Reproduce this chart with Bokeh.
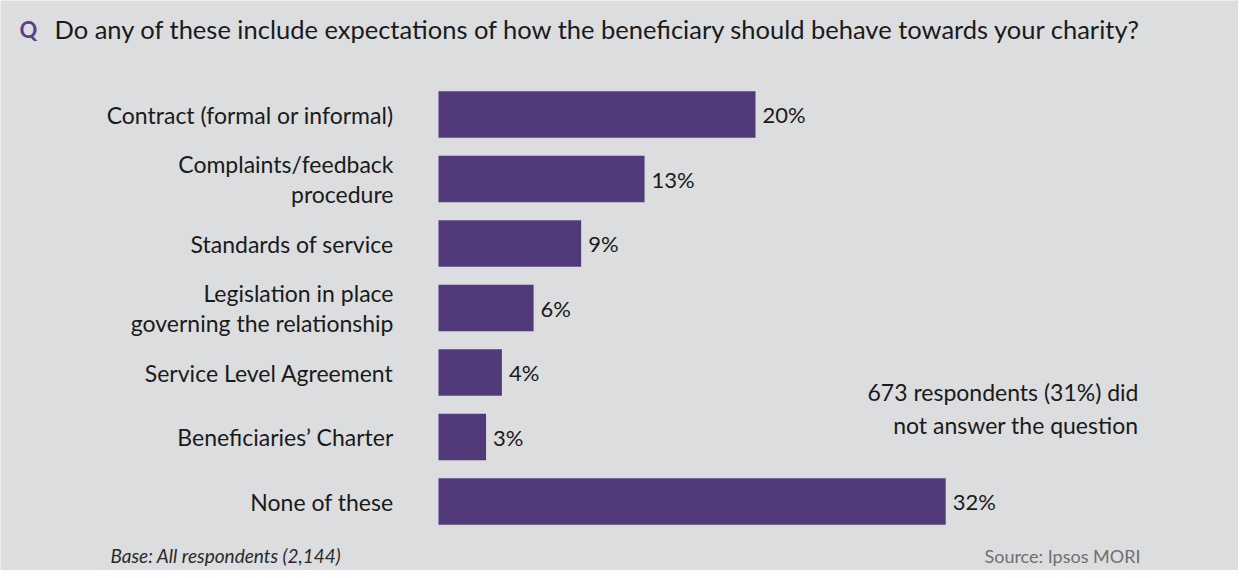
from bokeh.plotting import figure
from bokeh.models import Range1d, Label, ColumnDataSource
from bokeh.core.properties import value
from bokeh.embed import file_html
from bokeh.resources import INLINE

categories = [
    "Contract (formal or informal)",
    "Complaints/feedback\nprocedure",
    "Standards of service",
    "Legislation in place\ngoverning the relationship",
    "Service Level Agreement",
    "Beneficiaries\u2019 Charter",
    "None of these",
]
values = [20, 13, 9, 6, 4, 3, 32]
value_labels = ["20%", "13%", "9%", "6%", "4%", "3%", "32%"]

FONT = "Lato"
BG = "#DCDDDF"
BAR = "#523A7A"

W, H = 1238, 570
X0 = 438          # canvas px of the zero line
XS = 15.85        # px per percent
Y0 = 114          # canvas px of first bar centre
YS = 64.5         # px per category

def px2x(px):
    return (px - 8 - X0) / XS

def px2y(py):
    return (py - 8 - Y0) / YS

p = figure(width=W, height=H, output_backend="svg", toolbar_location=None,
           x_range=Range1d(-X0 / XS, (W - X0) / XS),
           y_range=Range1d((H - Y0) / YS, -Y0 / YS),
           min_border=0, min_border_left=0, min_border_right=0,
           min_border_top=0, min_border_bottom=0,
           background_fill_color=BG, border_fill_color=BG, outline_line_color=None)
p.xaxis.visible = False
p.yaxis.visible = False
p.grid.visible = False

pos = list(range(len(categories)))
src = ColumnDataSource(dict(y=pos, v=values, lab=value_labels, cat=categories))
p.hbar(y="y", left=0, right="v", height=0.72, source=src,
       fill_color=BAR, line_color=None)

p.text(x="v", y="y", text="lab", source=src, x_offset=7,
       text_font=value(FONT), text_font_size="22px", text_color="#1a1a1a",
       text_align="left", text_baseline="middle")

p.text(x=0, y="y", text="cat", source=src, x_offset=-45,
       text_font=value(FONT), text_font_size="23px", text_color="#1a1a1a",
       text_align="right", text_baseline="middle", text_line_height=1.1)

p.add_layout(Label(x=px2x(27), y=px2y(37), text="Q", text_font=FONT,
                   text_font_size="22px", text_font_style="bold", text_color="#5A3F8A",
                   text_baseline="middle"))
p.add_layout(Label(x=px2x(62), y=px2y(36),
                   text="Do any of these include expectations of how the beneficiary should behave towards your charity?",
                   text_font=FONT, text_font_size="25.5px", text_color="#1a1a1a",
                   text_baseline="middle"))
p.add_layout(Label(x=px2x(1146), y=px2y(416),
                   text="673 respondents (31%) did\nnot answer the question",
                   text_font=FONT, text_font_size="23px", text_color="#1a1a1a",
                   text_align="right", text_baseline="middle", text_line_height=1.15))
p.add_layout(Label(x=px2x(118), y=px2y(563), text="Base: All respondents (2,144)",
                   text_font=FONT, text_font_size="19px", text_font_style="italic",
                   text_color="#2a2a2a", text_baseline="middle"))
p.add_layout(Label(x=px2x(1148), y=px2y(563), text="Source: Ipsos MORI",
                   text_font=FONT, text_font_size="18px", text_color="#707070",
                   text_align="right", text_baseline="middle"))

open("out.html", "w").write(file_html(p, INLINE))
